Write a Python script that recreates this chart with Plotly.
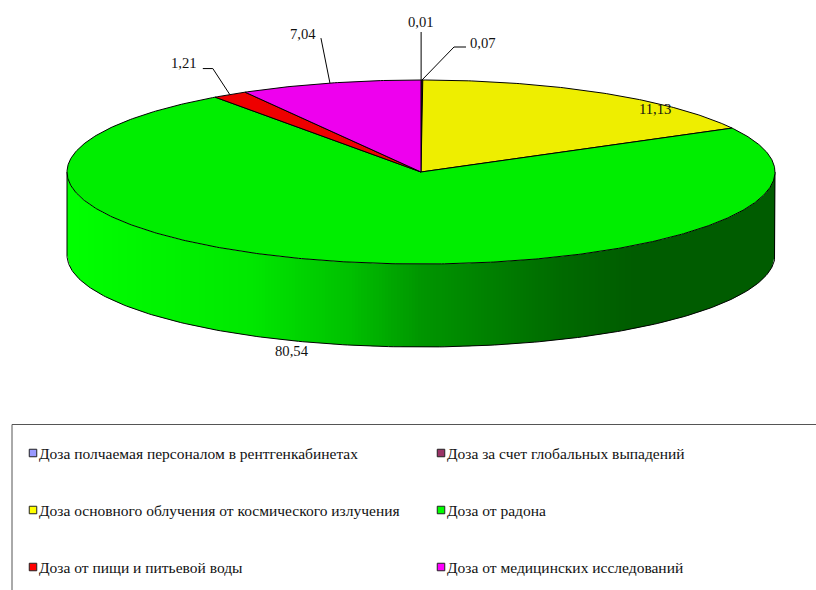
import numpy as np
import plotly.graph_objects as go

# ---- data ----
categories = ["Доза полчаемая персоналом в рентгенкабинетах",
              "Доза за счет глобальных выпадений",
              "Доза основного облучения от космического излучения",
              "Доза от радона",
              "Доза от пищи и питьевой воды",
              "Доза от медицинских исследований"]
values = [0.01, 0.07, 11.13, 80.54, 1.21, 7.04]
# share of the rim each slice occupies as read from the (distorted) 3-D picture
drawn_shares = [0.01, 0.07, 17.0, 73.04, 1.6, 8.28]
top_colors = ["#9999ee", "#8f3060", "#eeee00", "#00ee00", "#ee0000", "#ee00ee"]
legend_colors = ["#9999ff", "#993366", "#ffff00", "#00ff00", "#ff0000", "#ff00ff"]

# ---- layout constants (pixels) ----
W, H = 816, 590
CX, CY, RX, RY, DEPTH = 421, 172, 354, 92, 83
FONT = "Liberation Serif"
LABEL_SIZE = 14.67
LEGEND_SIZE = 15.5
side_stops = [(67, 255), (250, 232), (350, 192), (420, 150), (560, 106), (633, 92), (775, 92)]


def rim(t_deg, dy=0):
    t = np.radians(t_deg)
    return CX + RX * np.sin(t), CY - RY * np.cos(t) + dy


def side_color(x):
    g = np.interp(x, [s[0] for s in side_stops], [s[1] for s in side_stops])
    return f"rgb(0,{int(round(g))},0)"


fig = go.Figure()
edges = np.concatenate([[0], np.cumsum(drawn_shares)]) / sum(drawn_shares) * 360
mids = (edges[:-1] + edges[1:]) / 2


def line(xs, ys, color="black", width=1, **kw):
    fig.add_trace(go.Scatter(x=xs, y=ys, mode="lines", line=dict(color=color, width=width),
                             hoverinfo="skip", showlegend=False, **kw))


# side wall: pixel-aligned strips along the front half of the rim
front_y = lambda x: CY + RY * np.sqrt(np.clip(1 - ((x - CX) / RX) ** 2, 0, 1))
strip_edges = np.arange(CX - RX, CX + RX + 1, 3)
for xa, xb in zip(strip_edges[:-1], strip_edges[1:]):
    xs = np.array([xa, xb])
    col = side_color((xa + xb) / 2)
    ya, yb = front_y(xs)
    fig.add_trace(go.Scatter(x=[xa, xb, xb, xa, xa], y=[ya, yb, yb + DEPTH, ya + DEPTH, ya],
                             mode="lines", fill="toself", fillcolor=col,
                             line=dict(width=0), hoverinfo="skip", showlegend=False))
tf = np.linspace(90, 270, 241)
xf, yf = rim(tf, DEPTH)
x1, y1 = rim(90)
x2, y2 = rim(270)
line([x1, x1, *xf, x2, x2], [y1, y1 + DEPTH, *yf, y2 + DEPTH, y2])

# top face slices
for i, (a, b) in enumerate(zip(edges[:-1], edges[1:])):
    t = np.linspace(a, b, max(2, int(b - a) * 2 + 2))
    x, y = rim(t)
    fig.add_trace(go.Scatter(x=[CX, *x, CX], y=[CY, *y, CY], mode="lines", fill="toself",
                             fillcolor=top_colors[i], line=dict(color="black", width=1),
                             name=categories[i], hoverinfo="name", showlegend=False))

# leader lines and value labels: offsets of elbow / end from the slice rim point
leaders = {0: [(0, -48)], 1: [(32, -33), (44, -33)], 4: [(-17, -26), (-27, -26)], 5: [(-9, -45)]}
label_off = [(-0.5, -58), (61, -37), (52.5, 16), (-49.5, 0), (-46, -32), (-26.5, -49)]
for i, v in enumerate(values):
    ax, ay = rim(mids[i], DEPTH + 6 if i == 3 else 0)
    if i in leaders:
        line([ax] + [ax + d[0] for d in leaders[i]], [ay] + [ay + d[1] for d in leaders[i]])
    fig.add_annotation(x=ax + label_off[i][0], y=ay + label_off[i][1],
                       text=f"{v:.2f}".replace(".", ","), showarrow=False,
                       font=dict(family=FONT, size=LABEL_SIZE, color="#111111"))

# legend block: frame runs off the right and bottom of the picture
line([12, 12, W], [H, 424.5, 424.5], color="#555555", width=1)
leg_x = [33, 441]
leg_y = [453, 510, 567]
for i, c in enumerate(categories):
    col, row = i % 2, i // 2
    fig.add_trace(go.Scatter(x=[leg_x[col]], y=[leg_y[row]], mode="markers", hoverinfo="skip",
                             showlegend=False,
                             marker=dict(symbol="square", size=7.5, color=legend_colors[i],
                                         line=dict(color="#222222", width=1))))
    fig.add_annotation(x=leg_x[col] + 4, y=leg_y[row], text=c, showarrow=False, xanchor="left",
                       font=dict(family=FONT, size=LEGEND_SIZE, color="#111111"))

fig.update_layout(width=W, height=H, margin=dict(l=0, r=0, t=0, b=0),
                  paper_bgcolor="white", plot_bgcolor="white", showlegend=False,
                  xaxis=dict(range=[0, W], visible=False, fixedrange=True),
                  yaxis=dict(range=[H, 0], visible=False, fixedrange=True))
fig.write_html("out.html", config={"displayModeBar": False},
               post_script="document.body.style.margin='0';")
